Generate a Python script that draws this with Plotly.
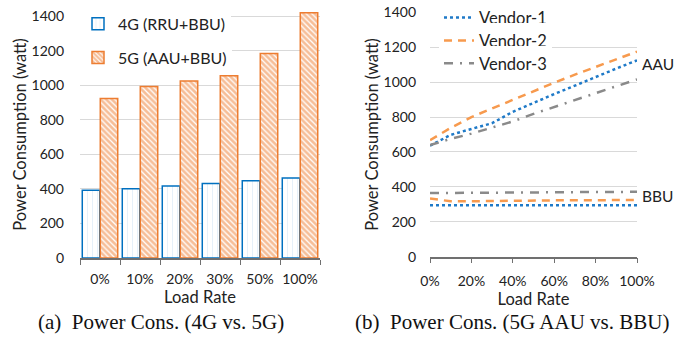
import plotly.graph_objects as go

# ---------------- data ----------------
load_cats = ["0%", "10%", "20%", "30%", "50%", "100%"]
power_4g = [392, 401, 417, 432, 447, 463]
power_5g = [923, 992, 1025, 1055, 1183, 1419]

load_rate = [0, 10, 20, 30, 40, 50, 60, 70, 80, 90, 100]
aau_v1 = [636, 698, 732, 765, 830, 882, 932, 980, 1030, 1078, 1125]
aau_v2 = [668, 738, 800, 850, 900, 950, 997, 1043, 1088, 1132, 1175]
aau_v3 = [640, 675, 705, 738, 775, 818, 858, 898, 940, 980, 1016]
bbu_v1 = [295, 295, 295, 295, 295, 295, 295, 295, 295, 295, 295]
bbu_v2 = [333, 318, 318, 320, 321, 322, 323, 324, 324, 325, 325]
bbu_v3 = [365, 365, 366, 366, 367, 368, 369, 370, 370, 371, 372]

y_ticks = [0, 200, 400, 600, 800, 1000, 1200, 1400]
x2_ticks = [0, 20, 40, 60, 80, 100]
x2_labels = ["0%", "20%", "40%", "60%", "80%", "100%"]

# ---------------- style ----------------
W, H = 688, 341
SANS = "Lato, 'Open Sans', sans-serif"
SERIF = "'Liberation Serif', 'Times New Roman', serif"
BLUE = "#0070C0"
ORANGE = "#ED7D31"
V1 = "#1F7AC8"
V2 = "#F79A4E"
V3 = "#8A8A8A"
GRID = "#D9D9D9"
AXIS = "#707070"
TXT = "#222222"

fig = go.Figure()

fig.add_trace(go.Bar(
    x=load_cats, y=power_4g, name="4G (RRU+BBU)",
    xaxis="x", yaxis="y", legend="legend",
    marker=dict(color="white", line=dict(color=BLUE, width=1.5),
                pattern=dict(shape="|", fgcolor="#A9CCEB", bgcolor="white",
                             size=5, solidity=0.12)),
))
fig.add_trace(go.Bar(
    x=load_cats, y=power_5g, name="5G (AAU+BBU)",
    xaxis="x", yaxis="y", legend="legend2",
    marker=dict(color="white", line=dict(color=ORANGE, width=1.5),
                pattern=dict(shape="\\", fgcolor=ORANGE, bgcolor="white",
                             size=4, solidity=0.68)),
))

line_specs = [
    ("Vendor-1", aau_v1, bbu_v1, V1, "dot", 2.5, "legend3"),
    ("Vendor-2", aau_v2, bbu_v2, V2, "8px,6px", 2.5, "legend4"),
    ("Vendor-3", aau_v3, bbu_v3, V3, "9px,7px,2px,7px", 2.5, "legend5"),
]
for name, aau, bbu, col, dash, w, lg in line_specs:
    fig.add_trace(go.Scatter(
        x=load_rate, y=aau, name=name, mode="lines",
        xaxis="x2", yaxis="y2", legend=lg,
        line=dict(color=col, dash=dash, width=w),
    ))
for name, aau, bbu, col, dash, w, lg in line_specs:
    fig.add_trace(go.Scatter(
        x=load_rate, y=bbu, name=name, mode="lines", showlegend=False,
        xaxis="x2", yaxis="y2",
        line=dict(color=col, dash=dash, width=w),
    ))

tick_font = dict(family=SANS, size=14, color=TXT)
title_font = dict(family=SANS, size=16.5, color=TXT)


def leg(x, y, size):
    return dict(x=x / W, y=1 - y / H, xanchor="left", yanchor="middle",
                bgcolor="white", borderwidth=0, itemwidth=30,
                font=dict(family=SANS, size=size, color=TXT))


fig.update_layout(
    width=W, height=H,
    margin=dict(l=0, r=0, t=0, b=0),
    paper_bgcolor="white", plot_bgcolor="white",
    barmode="group", bargap=0.1, bargroupgap=0.03,
    font=dict(family=SANS, size=14, color=TXT),
    xaxis=dict(
        domain=[80 / W, 320 / W], anchor="y", automargin=False,
        type="category", range=[-0.5, 5.5], tickangle=0,
        showline=True, linecolor=AXIS, linewidth=1.5,
        ticks="outside", tickson="boundaries", ticklen=5, tickcolor=AXIS,
        showgrid=False, tickfont=tick_font, ticklabelstandoff=7,
        title=dict(text="Load Rate", font=title_font, standoff=1),
    ),
    yaxis=dict(
        domain=[1 - 257.3 / H, 1 - 8.0 / H], anchor="x", automargin=False,
        range=[0, 1430], tickvals=y_ticks,
        showgrid=True, gridcolor=GRID, gridwidth=1, zeroline=False,
        showline=False, ticks="", tickfont=tick_font, ticklabelstandoff=15,
        title=dict(text="Power Consumption (watt)", font=title_font, standoff=0),
    ),
    xaxis2=dict(
        domain=[430 / W, 637 / W], anchor="y2", automargin=False,
        range=[0, 100], tickvals=x2_ticks, ticktext=x2_labels, tickangle=0,
        showline=True, linecolor=AXIS, linewidth=1.5,
        ticks="outside", ticklen=5, tickcolor=AXIS,
        showgrid=False, zeroline=False, tickfont=tick_font, ticklabelstandoff=6,
        title=dict(text="Load Rate", font=title_font, standoff=1),
    ),
    yaxis2=dict(
        domain=[1 - 256 / H, 1 - 9.4 / H], anchor="x2", automargin=False,
        range=[0, 1400], tickvals=y_ticks,
        showgrid=True, gridcolor=GRID, gridwidth=1, zeroline=False,
        showline=False, ticks="", tickfont=tick_font, ticklabelstandoff=13,
        title=dict(text="Power Consumption (watt)", font=title_font, standoff=0),
    ),
    legend=leg(78, 21, 16),
    legend2=leg(78, 55, 16),
    legend3=leg(439, 15, 16.5),
    legend4=leg(439, 38, 16.5),
    legend5=leg(439, 61, 16.5),
    annotations=[
        dict(text="AAU", x=640 / W, y=1 - 62 / H, xref="paper", yref="paper",
             xanchor="left", yanchor="middle", showarrow=False,
             font=dict(family=SANS, size=15.5, color=TXT)),
        dict(text="BBU", x=640 / W, y=1 - 195 / H, xref="paper", yref="paper",
             xanchor="left", yanchor="middle", showarrow=False,
             font=dict(family=SANS, size=15.5, color=TXT)),
        dict(text="(a)  Power Cons. (4G vs. 5G)", x=161 / W, y=1 - 322 / H,
             xref="paper", yref="paper", xanchor="center", yanchor="middle",
             showarrow=False, font=dict(family=SERIF, size=21, color="#111")),
        dict(text="(b)  Power Cons. (5G AAU vs. BBU)", x=512 / W, y=1 - 322 / H,
             xref="paper", yref="paper", xanchor="center", yanchor="middle",
             showarrow=False, font=dict(family=SERIF, size=21, color="#111")),
    ],
)

fig.write_html("out.html", config={"displayModeBar": False},
               post_script="document.body.style.margin='0';")
